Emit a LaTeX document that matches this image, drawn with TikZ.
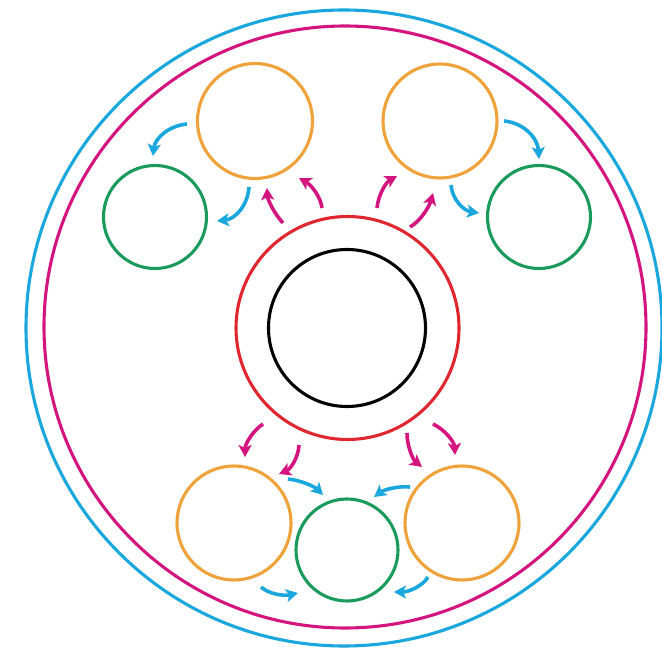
\documentclass[tikz,border=0pt]{standalone}
\usetikzlibrary{arrows.meta,calc}
\definecolor{cblue}{HTML}{1AA7DD}
\definecolor{cmag}{HTML}{D4157F}
\definecolor{cred}{HTML}{E02730}
\definecolor{corange}{HTML}{EFA13A}
\definecolor{cgreen}{HTML}{1A9A5B}
\newcommand{\arcflow}[4]{%
  \draw[flow=#1] (#2) .. controls ($(#2)!0.6!(#3)$) and ($(#4)!0.6!(#3)$) .. (#4);}
\begin{document}
\begin{tikzpicture}[x=1pt,y=-1pt,
  ring/.style 2 args={circle, draw=#1, line width=3.1pt, inner sep=0pt, outer sep=0pt, minimum size=#2},
  flow/.style={draw=#1, line width=3.6pt, -{Stealth[length=12pt,width=13pt,inset=3pt]}}]
\useasboundingbox (0,0) rectangle (662,652);
% outer rings
\node[ring={cblue}{636pt}] (outerblue) at (344,328) {};
\node[ring={cmag}{602pt}] (outermag) at (345,327) {};
% core
\node[ring={cred}{223pt}] (redring) at (347.5,328) {};
\node[ring={black}{157pt}] (core) at (347,328) {};
% orange circles
\node[ring={corange}{115pt}] (otl) at (255,121) {};
\node[ring={corange}{114pt}] (otr) at (440,121) {};
\node[ring={corange}{114pt}] (obl) at (234,523) {};
\node[ring={corange}{114pt}] (obr) at (462,523) {};
% green circles
\node[ring={cgreen}{103pt}] (gl) at (155,217) {};
\node[ring={cgreen}{103pt}] (gr) at (539,217) {};
\node[ring={cgreen}{102pt}] (gb) at (347,550) {};
% arrow start, corner and end points
\coordinate (a1s) at (187,124); \coordinate (a1c) at (156,127); \coordinate (a1e) at (153,156);
\coordinate (a2s) at (249,187); \coordinate (a2c) at (247,218); \coordinate (a2e) at (217,221);
\coordinate (m1s) at (283,223); \coordinate (m1c) at (268,207); \coordinate (m1e) at (267,188);
\coordinate (m2s) at (322,208); \coordinate (m2c) at (320,190); \coordinate (m2e) at (299,178);
\coordinate (b1s) at (504,121); \coordinate (b1c) at (537,124); \coordinate (b1e) at (539,159);
\coordinate (b2s) at (451,185); \coordinate (b2c) at (453,209); \coordinate (b2e) at (479,213);
\coordinate (n1s) at (377,208); \coordinate (n1c) at (379,186); \coordinate (n1e) at (397,176);
\coordinate (n2s) at (410,227); \coordinate (n2c) at (426,218); \coordinate (n2e) at (433,193);
\coordinate (p1s) at (263,424); \coordinate (p1c) at (245,436); \coordinate (p1e) at (245,457);
\coordinate (p2s) at (299,445); \coordinate (p2c) at (298,466); \coordinate (p2e) at (279,474);
\coordinate (p3s) at (407,433); \coordinate (p3c) at (407,455); \coordinate (p3e) at (422,467);
\coordinate (p4s) at (433,424); \coordinate (p4c) at (454,434); \coordinate (p4e) at (455,455);
\coordinate (q1s) at (288,479); \coordinate (q1c) at (309,481); \coordinate (q1e) at (323,495);
\coordinate (q2s) at (410,487); \coordinate (q2c) at (390,485); \coordinate (q2e) at (374,497);
\coordinate (q3s) at (261,587); \coordinate (q3c) at (273.5,598.5); \coordinate (q3e) at (298,593);
\coordinate (q4s) at (428,577); \coordinate (q4c) at (419,592); \coordinate (q4e) at (394,592);
% blue arrows
\arcflow{cblue}{a1s}{a1c}{a1e}
\arcflow{cblue}{a2s}{a2c}{a2e}
\arcflow{cblue}{b1s}{b1c}{b1e}
\arcflow{cblue}{b2s}{b2c}{b2e}
\arcflow{cblue}{q1s}{q1c}{q1e}
\arcflow{cblue}{q2s}{q2c}{q2e}
\arcflow{cblue}{q3s}{q3c}{q3e}
\arcflow{cblue}{q4s}{q4c}{q4e}
% magenta arrows
\arcflow{cmag}{m1s}{m1c}{m1e}
\arcflow{cmag}{m2s}{m2c}{m2e}
\arcflow{cmag}{n1s}{n1c}{n1e}
\arcflow{cmag}{n2s}{n2c}{n2e}
\arcflow{cmag}{p1s}{p1c}{p1e}
\arcflow{cmag}{p2s}{p2c}{p2e}
\arcflow{cmag}{p3s}{p3c}{p3e}
\arcflow{cmag}{p4s}{p4c}{p4e}
\end{tikzpicture}
\end{document}
